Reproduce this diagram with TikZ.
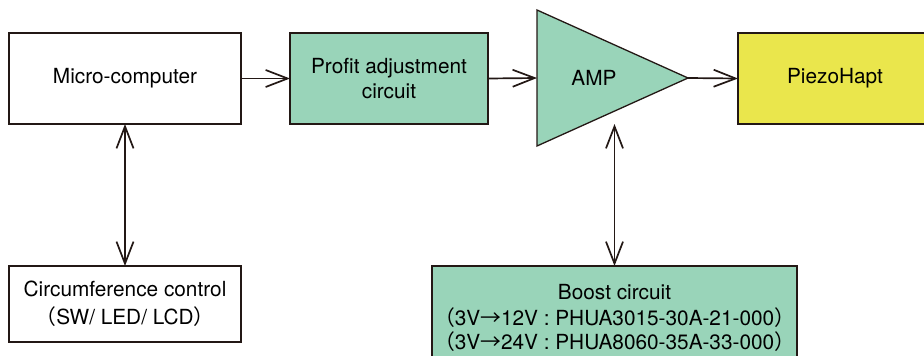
\documentclass[tikz,border=0pt]{standalone}
\usepackage{fontspec}
\setmainfont{TeX Gyre Heros}
\newfontfamily\cjkf{Noto Sans CJK JP}
\usetikzlibrary{arrows.meta}
\definecolor{lineC}{HTML}{231815}
\definecolor{greenC}{HTML}{99D4B9}
\definecolor{yellowC}{HTML}{EAE64C}
\newcommand{\jlp}{{\cjkf （}}
\newcommand{\jrp}{{\cjkf ）}}
\newcommand{\jarr}{{\cjkf →}}
\begin{document}
\begin{tikzpicture}[x=1pt,y=-1pt,
  box/.style={draw=lineC, line width=1.3pt, inner sep=0pt, outer sep=0pt, align=center,
    text=black, font=\fontsize{20.8}{25.7}\selectfont},
  lbl/.style={inner sep=0pt, text=black, font=\fontsize{20.8}{25.7}\selectfont},
  conn/.style={draw=lineC, line width=1.7pt, -{Straight Barb[length=22pt,width=17pt]}},
  dconn/.style={draw=lineC, line width=1.7pt, {Straight Barb[length=22pt,width=17pt]}-{Straight Barb[length=22pt,width=17pt]}}]
\useasboundingbox (0,0) rectangle (924,356);
\clip (0,0) rectangle (924,356);
\node[box, minimum width=232pt, minimum height=91pt] (mc) at (125,78.5) {Micro-computer};
\node[box, fill=greenC, minimum width=198pt, minimum height=91pt] (pa) at (389,78.5) {Profit adjustment\\circuit};
\draw[draw=lineC, fill=greenC, line width=1.3pt] (537,10) -- (537,146) -- (688,78) -- cycle;
\node[lbl] (amp) at (594,78) {AMP};
\coordinate (ampin) at (537,78);
\coordinate (ampout) at (688,78);
\coordinate (ampbot) at (614.5,124);
\node[box, fill=yellowC, minimum width=194pt, minimum height=91pt, anchor=west] (pz) at (738,78.5) {PiezoHapt};
\node[box, minimum width=232pt, minimum height=76pt, font=\fontsize{20.8}{28}\selectfont] (cc) at (125,304) {Circumference control\\\jlp SW/ LED/ LCD\jrp};
\node[box, fill=greenC, minimum width=365pt, minimum height=103pt, font=\fontsize{20.8}{23.3}\selectfont] (bc) at (614.5,317.5)
  {Boost circuit\\[3.5pt]\jlp 3V\jarr 12V : PHUA3015-30A-21-000\jrp\\\jlp 3V\jarr 24V : PHUA8060-35A-33-000\jrp};
\draw[conn] (mc.east) -- (pa.west);
\draw[conn] (pa.east) -- (ampin);
\draw[conn] (ampout) -- (pz.west);
\draw[dconn] (mc.south) -- (cc.north);
\draw[dconn] (ampbot) -- (bc.north);
\end{tikzpicture}
\end{document}
